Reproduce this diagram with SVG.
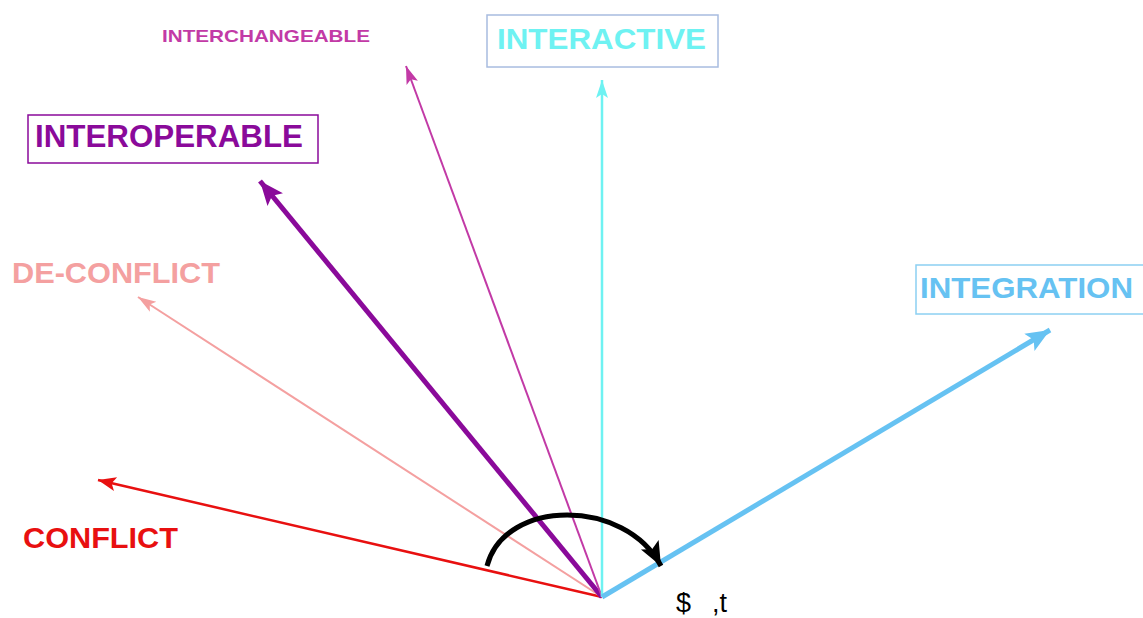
<svg xmlns="http://www.w3.org/2000/svg" width="1143" height="618" viewBox="0 0 1143 618">
<style>
.t{font-family:"Liberation Sans",Arial,sans-serif;font-weight:bold}
.box{fill:#fff;stroke-width:1.5}
</style>
<defs>
<marker id="aRed" markerUnits="userSpaceOnUse" markerWidth="20" markerHeight="20" viewBox="0 0 20 20" refX="18" refY="10" orient="auto"><path d="M0,3 L18,10 L0,17 L4,10 Z" fill="#e81010"/></marker>
<marker id="aPink" markerUnits="userSpaceOnUse" markerWidth="20" markerHeight="20" viewBox="0 0 20 20" refX="18" refY="10" orient="auto"><path d="M0,4 L18,10 L0,16 L4,10 Z" fill="#f4a0a0"/></marker>
<marker id="aPurple" markerUnits="userSpaceOnUse" markerWidth="26" markerHeight="26" viewBox="0 0 26 26" refX="24" refY="13" orient="auto"><path d="M0,3 L24,13 L0,23 L5,13 Z" fill="#8a0a9a"/></marker>
<marker id="aMag" markerUnits="userSpaceOnUse" markerWidth="20" markerHeight="20" viewBox="0 0 20 20" refX="18" refY="10" orient="auto"><path d="M0,4 L18,10 L0,16 L4,10 Z" fill="#c23aa6"/></marker>
<marker id="aCyan" markerUnits="userSpaceOnUse" markerWidth="20" markerHeight="20" viewBox="0 0 20 20" refX="18" refY="10" orient="auto"><path d="M0,4 L18,10 L0,16 L4,10 Z" fill="#6ef2f2"/></marker>
<marker id="aBlue" markerUnits="userSpaceOnUse" markerWidth="26" markerHeight="26" viewBox="0 0 26 26" refX="24" refY="13" orient="auto"><path d="M0,3 L24,13 L0,23 L5,13 Z" fill="#66c2f2"/></marker>
<marker id="aBlack" markerUnits="userSpaceOnUse" markerWidth="26" markerHeight="26" viewBox="0 0 26 26" refX="24" refY="13" orient="auto"><path d="M0,3 L24,13 L0,23 L5,13 Z" fill="#000"/></marker>
</defs>
<rect width="1143" height="618" fill="#fff"/>
<g id="connectors" fill="none">
<line x1="602" y1="597" x2="98" y2="480" stroke="#e81010" stroke-width="2.5" marker-end="url(#aRed)"/>
<line x1="602" y1="597" x2="138" y2="297" stroke="#f4a0a0" stroke-width="2" marker-end="url(#aPink)"/>
<line x1="602" y1="597" x2="260" y2="181" stroke="#8a0a9a" stroke-width="5" marker-end="url(#aPurple)"/>
<line x1="602" y1="597" x2="406" y2="66" stroke="#c23aa6" stroke-width="2" marker-end="url(#aMag)"/>
<line x1="602" y1="597" x2="602" y2="80" stroke="#6ef2f2" stroke-width="2.5" marker-end="url(#aCyan)"/>
<line x1="602" y1="597" x2="1050" y2="330" stroke="#66c2f2" stroke-width="5" marker-end="url(#aBlue)"/>
<path d="M487,566 C505,498 625,498 661,566" stroke="#000" stroke-width="5" marker-end="url(#aBlack)"/>
</g>
<g id="interchangeable"><text class="t" x="162" y="42" font-size="17" fill="#c23aa6" textLength="208" lengthAdjust="spacingAndGlyphs">INTERCHANGEABLE</text></g>
<g id="interactive"><rect class="box" x="487" y="15" width="231" height="52" stroke="#a8bce0"/><text class="t" x="497" y="49" font-size="29" fill="#6ef2f2" textLength="209" lengthAdjust="spacingAndGlyphs">INTERACTIVE</text></g>
<g id="interoperable"><rect class="box" x="28" y="115" width="290" height="48" stroke="#8a0a9a"/><text class="t" x="35" y="147" font-size="31" fill="#8a0a9a" textLength="268" lengthAdjust="spacingAndGlyphs">INTEROPERABLE</text></g>
<g id="deconflict"><text class="t" x="12" y="283" font-size="30" fill="#f4a0a0" textLength="208" lengthAdjust="spacingAndGlyphs">DE-CONFLICT</text></g>
<g id="integration"><rect class="box" x="916" y="265" width="240" height="49" stroke="#8cd0f2"/><text class="t" x="920" y="298" font-size="30" fill="#66c2f2" textLength="213" lengthAdjust="spacingAndGlyphs">INTEGRATION</text></g>
<g id="conflict"><text class="t" x="23" y="548" font-size="29" fill="#e81010" textLength="155" lengthAdjust="spacingAndGlyphs">CONFLICT</text></g>
<g id="cost"><text y="612" font-family="'Liberation Sans',Arial,sans-serif" font-size="27" fill="#000"><tspan x="676">$</tspan><tspan x="712">,t</tspan></text></g>
</svg>
